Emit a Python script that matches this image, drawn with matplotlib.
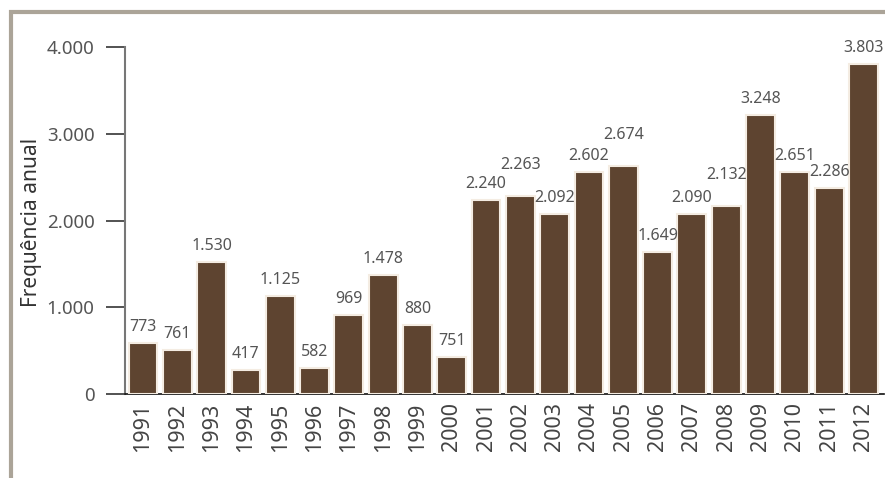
import matplotlib
matplotlib.use('Agg')
import matplotlib.pyplot as plt
from matplotlib.patches import Rectangle

anos = [str(a) for a in range(1991, 2013)]
# altura das barras como aparecem no gráfico original
frequencia = [588, 507, 1523, 277, 1130, 300, 911, 1373, 796, 427, 2238,
              2284, 2076, 2561, 2630, 1638, 2076, 2168, 3218, 2561, 2376, 3806]
# rótulos impressos sobre as barras
rotulos = ['773', '761', '1.530', '417', '1.125', '582', '969', '1.478', '880',
           '751', '2.240', '2.263', '2.092', '2.602', '2.674', '1.649', '2.090',
           '2.132', '3.248', '2.651', '2.286', '3.803']
anos_elevados = ['2002', '2005', '2008']
ticks_y = [0, 1000, 2000, 3000, 4000]
ticks_y_txt = ['0', '1.000', '2.000', '3.000', '4.000']

cor_barra = '#5e4430'
cor_borda = '#f4ece2'

plt.rcParams['font.family'] = ['Noto Sans', 'DejaVu Sans']

fig = plt.figure(figsize=(8.85, 4.78), dpi=100)
ax = fig.add_axes([125 / 885, 84 / 478, 759 / 885, 346.5 / 478])

x = list(range(len(anos)))
ax.bar(x, frequencia, width=0.84, color=cor_barra, edgecolor=cor_borda,
       linewidth=1.5, zorder=3)

for xi, h, txt, ano in zip(x, frequencia, rotulos, anos):
    desloc = 17 if ano in anos_elevados else 6
    ax.annotate(txt, (xi, h), xytext=(0, desloc), textcoords='offset points',
                ha='center', va='bottom', fontsize=11.5, color='#555555',
                annotation_clip=False)

ax.set_xlim(-0.525, 21.6)
ax.set_ylim(0, 4000)
ax.set_xticks(x)
ax.set_xticklabels(anos, rotation=90, fontsize=15.5, color='#444444')
ax.set_yticks(ticks_y)
ax.set_yticklabels(ticks_y_txt, fontsize=13.5, color='#555555')

ax.tick_params(axis='x', length=0, pad=6)
ax.tick_params(axis='y', length=14, width=1.3, color='#444444', pad=8)

for lado in ['top', 'right']:
    ax.spines[lado].set_visible(False)
ax.spines['left'].set_color('#777777')
ax.spines['left'].set_linewidth(1.5)
ax.spines['bottom'].set_color('#111111')
ax.spines['bottom'].set_linewidth(1.2)

fig.text(32 / 885, 1 - 222 / 478, 'Frequência anual', rotation=90,
         ha='center', va='center', fontsize=15, color='#333333')

# moldura
fig.patches.append(Rectangle((11 / 885, -0.1), 1.2, 1.1 - 12 / 478,
                             transform=fig.transFigure, fill=False,
                             edgecolor='#aba498', linewidth=3.0))

plt.savefig('out.png', dpi=100)
plt.close()
